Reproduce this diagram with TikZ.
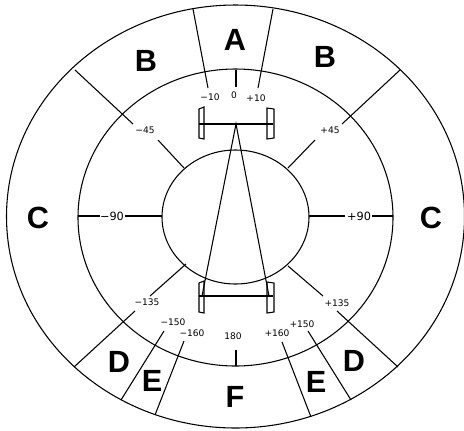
\documentclass[tikz,border=0pt]{standalone}
\usepackage{fontspec}
\setmainfont{Liberation Sans}
\newfontfamily\numfont{DejaVu Sans}
\tikzset{
  ring/.style={draw=black, line width=0.8pt},
  spoke/.style={draw=black, line width=0.8pt},
  zone/.style={font=\fontsize{23}{23}\selectfont\bfseries, inner sep=0pt},
  angle/.style={font=\numfont\fontsize{6.8}{7}\selectfont, inner sep=0pt},
}
\begin{document}
\begin{tikzpicture}[x=0.75pt, y=-0.75pt]
  \useasboundingbox (0,0) rectangle (464,430);
  % rings
  \draw[ring] (235.5,216.5) ellipse [x radius=229, y radius=211.5];
  \draw[ring] (235.5,217.5) ellipse [x radius=157.5, y radius=148.5];
  \draw[ring] (235.5,217) ellipse [x radius=73.5, y radius=67];
  % spokes
  \foreach \xa/\ya/\xb/\yb in {193/9/208/88, 273/9/258/88, 236/70/236/87,
      75/70/133/124, 158/140/184/168, 400/70/342/124, 315/140/288/168,
      78/216/100/216, 125/216/162/216, 309/216/345/216, 372/216/393/216,
      74/367/135/311, 150/296/186/264, 398/367/337/311, 323/296/288/266,
      121/400/164/331, 155/415/184/341, 351/400/308/331, 311/417/282/342,
      236/350/236/366}{
    \draw[spoke] (\xa,\ya) -- (\xb,\yb);
  }
  % car
  \draw[spoke] (199,124) -- (273,124);
  \draw[spoke] (199,296) -- (273,296);
  \draw[spoke] (202,296) -- (236,124) -- (269,296);
  \foreach \yy in {0,174}{
    \begin{scope}[yshift=-\yy*0.75pt]
      \draw[spoke] (199,109) -- (204,107) -- (204,139) -- (199,138) -- cycle;
      \draw[spoke] (267,108) -- (274,109) -- (274,138) -- (267,139) -- cycle;
    \end{scope}
  }
  % zones
  \foreach \nm/\xx/\yy/\tx in {za/235/40/A, zb/146/61/B, zc/325/57/B, zd/38/218/C,
      ze/431/218/C, zf/119/362/D, zg/354/361/D, zh/152/381/E, zi/316/382/E, zj/235/397/F}{
    \node[zone] (\nm) at (\xx,\yy) {\tx};
  }
  % angles
  \foreach \nm/\xx/\yy/\tx in {m10/210/97/−10, n0/234/95/0, p10/256/98/+10,
      m45/145/130/−45, p45/330/130/+45, p135/337/303/+135, m135/147/302/−135,
      m150/173/322/−150, m160/192/333/−160, n180/233/336/180, p160/277/333/+160,
      p150/302/324/+150}{
    \node[angle] (\nm) at (\xx,\yy) {\tx};
  }
  \node[angle, font=\numfont\fontsize{8.5}{9}\selectfont] (m90) at (112,216) {−90};
  \node[angle, font=\numfont\fontsize{8.5}{9}\selectfont] (p90) at (359,216) {+90};
\end{tikzpicture}
\end{document}
